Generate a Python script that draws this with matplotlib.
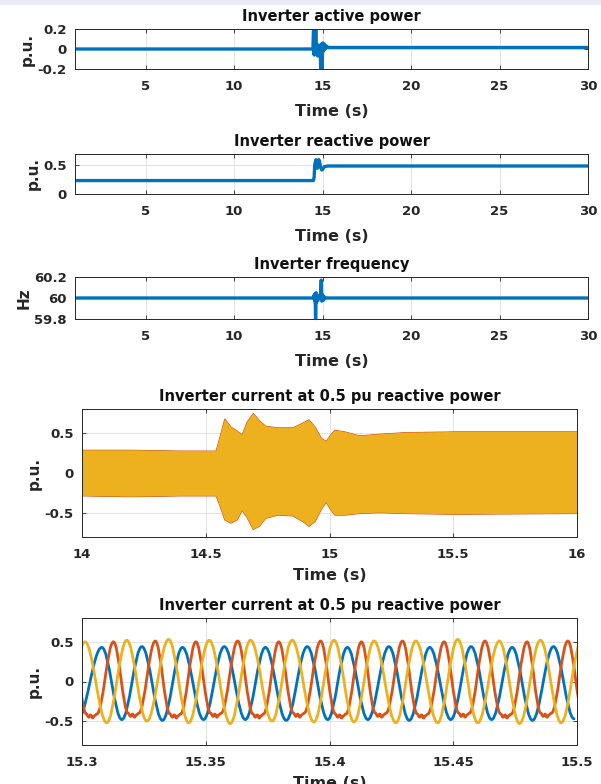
import matplotlib
matplotlib.use("Agg")
from matplotlib import pyplot as plt
from matplotlib.path import Path
from matplotlib.patches import PathPatch, Rectangle

BLUE = "#0072BD"
RED = "#D95319"
YELLOW = "#EDB120"

# --- inverter active power (p.u.) vs time (s)
p_t = [1.0, 14.45, 14.50, 14.52, 14.55, 14.58, 14.61, 14.64, 14.68, 14.72, 14.76,
       14.80, 14.86, 14.90, 14.93, 14.96, 15.00, 15.05, 15.10, 15.15, 15.22, 15.30, 30.0]
p_v = [0.0, 0.0, 0.30, -0.06, 0.30, -0.05, 0.30, -0.04, 0.03, -0.07, 0.04,
       -0.03, 0.02, -0.30, 0.05, -0.30, 0.06, -0.02, 0.05, 0.0, 0.03, 0.015, 0.015]

# --- inverter reactive power (p.u.)
q_t = [1.0, 14.48, 14.52, 14.55, 14.58, 14.62, 14.66, 14.70, 14.74, 14.78, 14.82,
       14.88, 14.95, 15.00, 15.10, 15.30, 30.0]
q_v = [0.235, 0.235, 0.30, 0.50, 0.55, 0.60, 0.52, 0.45, 0.55, 0.60, 0.58,
       0.47, 0.42, 0.43, 0.48, 0.49, 0.49]

# --- inverter frequency (Hz)
f_t = [1.0, 14.50, 14.52, 14.55, 14.58, 14.60, 14.63, 14.66, 14.70, 14.75, 14.80,
       14.88, 14.92, 14.95, 15.00, 15.05, 15.10, 15.20, 30.0]
f_v = [60.0, 60.0, 60.03, 59.97, 60.04, 59.75, 60.05, 59.96, 60.03, 59.98, 60.01,
       60.0, 60.17, 59.97, 60.03, 59.98, 60.01, 60.0, 60.0]

# --- current envelope 14-16 s (p.u.)
env_t = [14.00, 14.20, 14.40, 14.54, 14.555, 14.575, 14.60, 14.625, 14.645, 14.665,
         14.69, 14.715, 14.74, 14.79, 14.85, 14.89, 14.915, 14.94, 14.965, 14.985,
         15.00, 15.02, 15.06, 15.12, 15.20, 15.30, 15.50, 16.00]
env_hi = [0.29, 0.29, 0.28, 0.28, 0.45, 0.68, 0.58, 0.53, 0.48, 0.64,
          0.75, 0.66, 0.59, 0.57, 0.57, 0.63, 0.67, 0.58, 0.44, 0.40,
          0.47, 0.54, 0.52, 0.47, 0.49, 0.51, 0.52, 0.52]
env_lo = [-0.28, -0.29, -0.28, -0.28, -0.40, -0.58, -0.62, -0.58, -0.46, -0.55,
          -0.70, -0.66, -0.56, -0.52, -0.53, -0.60, -0.66, -0.60, -0.45, -0.36,
          -0.44, -0.52, -0.52, -0.50, -0.49, -0.50, -0.51, -0.50]

# --- three-phase currents 15.3-15.5 s, peaks and troughs
ia_t = [15.2982, 15.3080, 15.3161, 15.3242, 15.3325, 15.3406, 15.3491, 15.3575,
        15.3660, 15.3741, 15.3825, 15.3910, 15.3993, 15.4072, 15.4155, 15.4240,
        15.4322, 15.4405, 15.4490, 15.4572, 15.4655, 15.4738, 15.4820, 15.4905, 15.4988]
ia_v = [-0.48, 0.43, -0.48, 0.44, -0.49, 0.43, -0.48, 0.44, -0.48, 0.43, -0.49, 0.44,
        -0.48, 0.43, -0.48, 0.44, -0.49, 0.43, -0.48, 0.44, -0.48, 0.43, -0.49, 0.44, -0.47]

# phase b: peaks, and centres of the flat noisy troughs
ib_peak_t = [15.2958, 15.3127, 15.3296, 15.3460, 15.3629, 15.3795, 15.3964,
             15.4129, 15.4295, 15.4463, 15.4628, 15.4798, 15.4963]
ib_peak_v = [0.50, 0.50, 0.51, 0.50, 0.51, 0.50, 0.51, 0.50, 0.51, 0.50, 0.51, 0.50, 0.51]
ib_trough_t = [15.3039, 15.3208, 15.3377, 15.3541, 15.3712, 15.3876, 15.4045,
               15.4207, 15.4376, 15.4544, 15.4713, 15.4875, 15.5045]
ib_trough_v = [-0.44, -0.43, -0.44, -0.43, -0.44, -0.43, -0.44, -0.43, -0.44,
               -0.43, -0.44, -0.43, -0.44]
# ripple on the bottom of each phase-b trough (offset s, offset p.u.)
rip_dt = [-0.0021, -0.0012, -0.0004, 0.0004, 0.0012, 0.0021]
rip_dv = [0.03, -0.01, 0.02, -0.02, 0.01, 0.03]

ic_t = [15.2928, 15.3012, 15.3100, 15.3181, 15.3262, 15.3350, 15.3431, 15.3514,
        15.3599, 15.3681, 15.3768, 15.3849, 15.3937, 15.4018, 15.4099, 15.4180,
        15.4268, 15.4349, 15.4437, 15.4518, 15.4599, 15.4686, 15.4768, 15.4852,
        15.4936, 15.5020]
ic_v = [-0.52, 0.50, -0.52, 0.52, -0.50, 0.53, -0.52, 0.52, -0.53, 0.52, -0.50, 0.52,
        -0.51, 0.52, -0.51, 0.51, -0.52, 0.51, -0.52, 0.53, -0.52, 0.51, -0.53, 0.52,
        -0.52, 0.52]

xt_long = [5, 10, 15, 20, 25, 30]
xt_zoom = [14, 14.5, 15, 15.5, 16]
xt_fine = [15.3, 15.35, 15.4, 15.45, 15.5]


def box(l, t, r, b):
    # pixel box -> figure fraction
    return [l / 601, 1 - b / 784, (r - l) / 601, (b - t) / 784]


def style(ax, title, ylabel, xlim, ylim, xticks, yticks, ylabels=None, xlabpad=5):
    ax.set_xlim(*xlim)
    ax.set_ylim(*ylim)
    ax.set_xticks(xticks)
    ax.set_xticklabels([f"{x:g}" for x in xticks])
    ax.set_yticks(yticks)
    ax.set_yticklabels(ylabels if ylabels else [f"{y:g}" for y in yticks])
    ax.grid(True, color="#e3e3e3", lw=0.7)
    ax.set_axisbelow(True)
    ax.tick_params(direction="in", length=3, width=0.6, top=True, right=True,
                   labelsize=9.5, colors="#262626", pad=6)
    ax.tick_params(axis="x", pad=8)
    for lab in ax.get_xticklabels() + ax.get_yticklabels():
        lab.set_fontweight("bold")
    for s in ax.spines.values():
        s.set_color("#262626")
        s.set_linewidth(0.7)
    ax.set_title(title, fontsize=10.5, fontweight="bold", pad=6, color="#111111")
    ax.set_xlabel("Time (s)", fontsize=11.5, fontweight="bold", labelpad=xlabpad,
                  color="#262626")
    ax.set_ylabel(ylabel, fontsize=11, fontweight="bold", labelpad=2, color="#262626")


def wave(t, v, k=0.363):
    verts = [(t[0], v[0])]
    codes = [Path.MOVETO]
    for i in range(1, len(t)):
        dt = t[i] - t[i - 1]
        verts += [(t[i - 1] + k * dt, v[i - 1]), (t[i] - k * dt, v[i]), (t[i], v[i])]
        codes += [Path.CURVE4] * 3
    return Path(verts, codes)


# phase b: peaks joined to rippled troughs
ib_t, ib_v = [], []
for pt, pv, tt, tv in zip(ib_peak_t, ib_peak_v, ib_trough_t, ib_trough_v):
    ib_t.append(pt)
    ib_v.append(pv)
    for dt, dv in zip(rip_dt, rip_dv):
        ib_t.append(tt + dt)
        ib_v.append(tv + dv)

plt.rcParams["font.family"] = ["DejaVu Sans"]
fig = plt.figure(figsize=(6.01, 7.84), dpi=100)
fig.patches.append(Rectangle((0, 1 - 4 / 784), 1, 4 / 784, transform=fig.transFigure,
                             color="#e9edf3", zorder=-1))

ax1 = fig.add_axes(box(75, 29, 588, 69))
ax1.plot(p_t, p_v, color=BLUE, lw=2.4)
style(ax1, "Inverter active power", "p.u.", (1, 30), (-0.2, 0.2), xt_long, [-0.2, 0, 0.2],
      xlabpad=8)

ax2 = fig.add_axes(box(75, 154, 588, 194))
ax2.plot(q_t, q_v, color=BLUE, lw=2.4)
style(ax2, "Inverter reactive power", "p.u.", (1, 30), (0, 0.7), xt_long, [0, 0.5],
      xlabpad=8)

ax3 = fig.add_axes(box(75, 277, 588, 319))
ax3.plot(f_t, f_v, color=BLUE, lw=2.4)
style(ax3, "Inverter frequency", "Hz", (1, 30), (59.8, 60.2), xt_long,
      [59.8, 60, 60.2], ["59.8", "60", "60.2"], xlabpad=8)

ax4 = fig.add_axes(box(82, 409, 577, 537))
ax4.fill_between(env_t, env_lo, env_hi, color=BLUE, lw=0)
ax4.fill_between(env_t, env_lo, env_hi, facecolor=RED, edgecolor=RED, lw=0.8)
ax4.fill_between(env_t, env_lo, env_hi, color=YELLOW, lw=0)
style(ax4, "Inverter current at 0.5 pu reactive power", "p.u.", (14, 16), (-0.8, 0.8),
      xt_zoom, [-0.5, 0, 0.5])

ax5 = fig.add_axes(box(82, 618, 577, 745))
for t, v, c in [(ia_t, ia_v, BLUE), (ib_t, ib_v, RED), (ic_t, ic_v, YELLOW)]:
    ax5.add_patch(PathPatch(wave(t, v), fill=False, edgecolor=c, lw=2.0,
                            capstyle="round", joinstyle="round"))
style(ax5, "Inverter current at 0.5 pu reactive power", "p.u.", (15.3, 15.5), (-0.8, 0.8),
      xt_fine, [-0.5, 0, 0.5])
ax5.set_xticklabels(["15.3", "15.35", "15.4", "15.45", "15.5"])
for lab in ax5.get_xticklabels():
    lab.set_fontweight("bold")

fig.savefig("out.png", dpi=100)
